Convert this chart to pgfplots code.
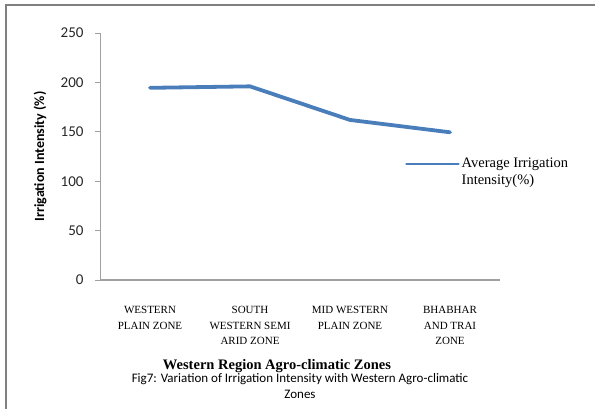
\documentclass[border=0pt]{standalone}
\usepackage{fontspec}
\setmainfont{Liberation Serif}
\newfontfamily\calibri{Carlito}
\usepackage{pgfplots}
\pgfplotsset{compat=1.18}
\definecolor{lineblue}{RGB}{74,126,187}
\definecolor{axgray}{RGB}{160,160,160}
\definecolor{framegray}{RGB}{128,128,128}

\begin{document}
\begin{tikzpicture}
\begin{axis}[
    at={(100bp,129bp)}, anchor=south west,
    scale only axis,
    width=400bp, height=247bp,
    xmin=-0.5, xmax=3.5,
    ymin=0, ymax=250,
    ytick={0,50,...,250},
    xtick={0,1,2,3},
    xticklabels={{WESTERN\\PLAIN ZONE},{SOUTH\\WESTERN SEMI\\ARID ZONE},{MID WESTERN\\PLAIN ZONE},{BHABHAR\\AND TRAI\\ZONE}},
    axis x line*=bottom, axis y line*=left,
    axis line style={axgray, line width=1bp, -},
    x axis line style={line width=1.5bp},
    xtick style={draw=none},
    ytick style={axgray, line width=0.8bp},
    tick align=outside,
    major tick length=5bp,
    /pgf/number format/assume math mode=true,
    yticklabel style={font=\calibri\fontsize{15bp}{17bp}\selectfont, text=black!85, xshift=-8bp},
    xticklabel style={font=\fontsize{11bp}{15.5bp}\selectfont, align=center, yshift=-18bp, anchor=north},
    ylabel={\textbf{Irrigation Intensity (\%)}},
    ylabel style={font=\calibri\fontsize{14bp}{16bp}\selectfont, at={(axis description cs:-0.15,0.5)}, anchor=center},
    xlabel={\textbf{Western Region Agro-climatic Zones}},
    xlabel style={font=\fontsize{14.5bp}{16bp}\selectfont, at={(axis description cs:0.4425,-0.35)}, anchor=center},
    legend style={draw=none, fill=none, at={(0.7625,0.502)}, anchor=north west,
        font=\fontsize{14.5bp}{16.5bp}\selectfont, inner sep=0pt,
        cells={align=left, anchor=west}},
    legend image code/.code={\draw[lineblue, line width=2.5bp] (0bp,8bp) -- (52bp,8bp);},
    clip=false,
]
\addplot[lineblue, line width=3.8bp, line join=round, line cap=round] coordinates {(0,194.5) (1,196) (2,162) (3,149.5)};
\addlegendentry{Average Irrigation\\Intensity(\%)}
\end{axis}
\draw[framegray, line width=2bp] (6bp,0bp) -- (6bp,404bp) -- (595bp,404bp);
\node[font=\calibri\fontsize{13bp}{15.5bp}\selectfont, align=center] at (300bp,23bp) {Fig7: Variation of Irrigation Intensity with Western Agro-climatic\\Zones};
\pgfresetboundingbox
\useasboundingbox (0,0) rectangle (595bp,409bp);
\end{tikzpicture}
\end{document}
